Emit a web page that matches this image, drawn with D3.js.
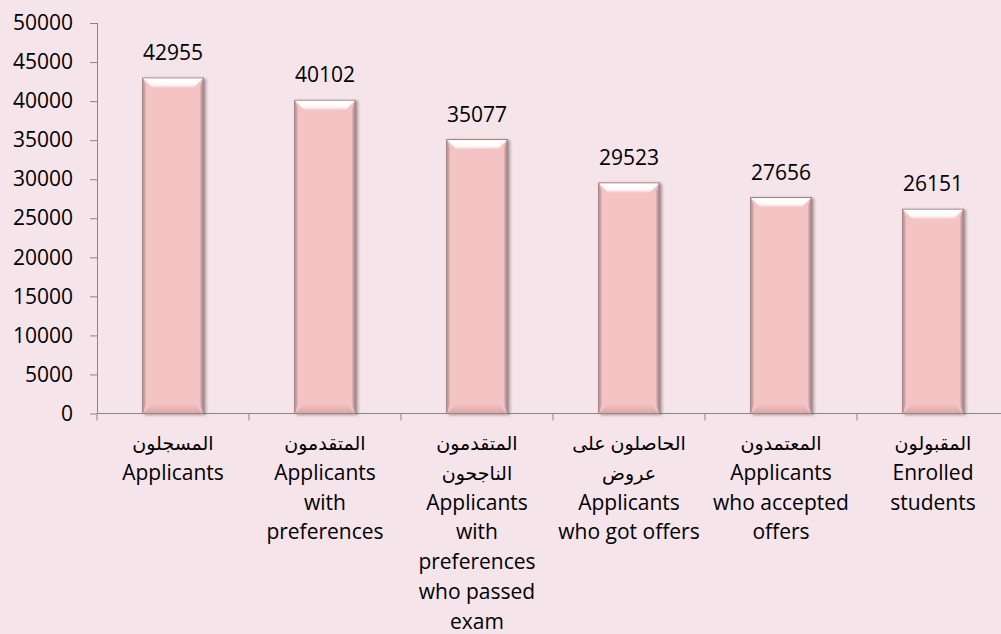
<!DOCTYPE html>
<html>
<head>
<meta charset="utf-8">
<script src="https://cdn.jsdelivr.net/npm/d3@7"></script>
<style>
  body { margin: 0; background: #f5e4e9; }
  text { font-family: "Open Sans", "DejaVu Sans", sans-serif; }
</style>
</head>
<body>
<div id="chart"></div>
<script>
// chart data
var categories = ["Applicants", "Preferences", "Passed", "Offers", "Accepted", "Enrolled"];
var values = [42955, 40102, 35077, 29523, 27656, 26151];
var labelLines = [
  ["المسجلون", "Applicants"],
  ["المتقدمون", "Applicants", "with", "preferences"],
  ["المتقدمون", "الناجحون", "Applicants", "with", "preferences", "who passed", "exam"],
  ["الحاصلون على", "عروض", "Applicants", "who got offers"],
  ["المعتمدون", "Applicants", "who accepted", "offers"],
  ["المقبولون", "Enrolled", "students"]
];
var yTicks = [0, 5000, 10000, 15000, 20000, 25000, 30000, 35000, 40000, 45000, 50000];

var width = 1001, height = 634;
var plotLeft = 97, plotRight = 1009, plotTop = 23, plotBottom = 413.5;

var svg = d3.select("#chart")
  .append("svg")
    .attr("width", width)
    .attr("height", height);

svg.append("rect")
  .attr("width", width)
  .attr("height", height)
  .attr("fill", "#f5e4e9");

var defs = svg.append("defs");

// gradients for the bevel look
var gTop = defs.append("linearGradient").attr("id", "gTop")
  .attr("x1", 0).attr("y1", 0).attr("x2", 0).attr("y2", 1);
gTop.append("stop").attr("offset", "0%").attr("stop-color", "#ffffff");
gTop.append("stop").attr("offset", "65%").attr("stop-color", "#fffafa");
gTop.append("stop").attr("offset", "100%").attr("stop-color", "#f4c3c4");

var gBot = defs.append("linearGradient").attr("id", "gBot")
  .attr("x1", 0).attr("y1", 0).attr("x2", 0).attr("y2", 1);
gBot.append("stop").attr("offset", "0%").attr("stop-color", "#f4c3c4");
gBot.append("stop").attr("offset", "100%").attr("stop-color", "#dba7a9");

var gLeft = defs.append("linearGradient").attr("id", "gLeft")
  .attr("x1", 0).attr("y1", 0).attr("x2", 1).attr("y2", 0);
gLeft.append("stop").attr("offset", "0%").attr("stop-color", "#b58e90");
gLeft.append("stop").attr("offset", "100%").attr("stop-color", "#f4c3c4");

var gRight = defs.append("linearGradient").attr("id", "gRight")
  .attr("x1", 0).attr("y1", 0).attr("x2", 1).attr("y2", 0);
gRight.append("stop").attr("offset", "0%").attr("stop-color", "#f4c3c4");
gRight.append("stop").attr("offset", "100%").attr("stop-color", "#a88486");

var shadow = defs.append("filter").attr("id", "shadow")
  .attr("x", "-20%").attr("y", "-5%").attr("width", "140%").attr("height", "110%");
shadow.append("feGaussianBlur").attr("in", "SourceAlpha").attr("stdDeviation", 1.5);
shadow.append("feOffset").attr("dx", 2).attr("dy", 1).attr("result", "b");
shadow.append("feComponentTransfer").append("feFuncA").attr("type", "linear").attr("slope", 0.35);
var merge = shadow.append("feMerge");
merge.append("feMergeNode");
merge.append("feMergeNode").attr("in", "SourceGraphic");

// scales
var x = d3.scaleBand()
  .domain(categories)
  .range([plotLeft, plotRight])
  .paddingInner(0.6)
  .paddingOuter(0.3);

var y = d3.scaleLinear()
  .domain([0, 50000])
  .range([plotBottom, plotTop]);

// Y axis
var yAxis = svg.append("g")
  .attr("transform", "translate(" + plotLeft + ",0)")
  .call(d3.axisLeft(y).tickValues(yTicks).tickSize(7).tickPadding(17).tickFormat(d3.format("d")));
yAxis.selectAll("path, line").attr("stroke", "#888888");
yAxis.select(".domain").attr("d", "M0.5," + y(50000) + "V" + y(0));
yAxis.selectAll("text")
  .style("font-size", "21px")
  .attr("fill", "#000");

// X axis line + category ticks
svg.append("line")
  .attr("x1", plotLeft).attr("x2", plotRight)
  .attr("y1", plotBottom).attr("y2", plotBottom)
  .attr("stroke", "#888888");

var step = x.step();
svg.append("g").selectAll("line")
  .data(d3.range(categories.length + 1))
  .enter().append("line")
    .attr("x1", function(i) { return plotLeft + i * step; })
    .attr("x2", function(i) { return plotLeft + i * step; })
    .attr("y1", plotBottom)
    .attr("y2", plotBottom + 7)
    .attr("stroke", "#888888");

// bars
var bw = x.bandwidth();
var bev = 10;
var bars = svg.append("g").selectAll("g")
  .data(values)
  .enter().append("g")
    .attr("filter", "url(#shadow)");

bars.append("rect")
  .attr("x", function(d, i) { return x(categories[i]); })
  .attr("y", function(d) { return y(d); })
  .attr("width", bw)
  .attr("height", function(d) { return y(0) - y(d); })
  .attr("fill", "#f4c3c4")
  .attr("stroke", "#a08284")
  .attr("stroke-width", 1);

// top bevel
bars.append("polygon")
  .attr("points", function(d, i) {
    var x0 = x(categories[i]), y0 = y(d);
    return [[x0 + 0.5, y0 + 0.5], [x0 + bw - 0.5, y0 + 0.5], [x0 + bw - bev, y0 + bev], [x0 + bev, y0 + bev]].join(" ");
  })
  .attr("fill", "url(#gTop)");

// bottom bevel
bars.append("polygon")
  .attr("points", function(d, i) {
    var x0 = x(categories[i]), y1 = y(0);
    return [[x0 + 0.5, y1 - 0.5], [x0 + bw - 0.5, y1 - 0.5], [x0 + bw - bev, y1 - bev], [x0 + bev, y1 - bev]].join(" ");
  })
  .attr("fill", "url(#gBot)");

// left / right edges
bars.append("polygon")
  .attr("points", function(d, i) {
    var x0 = x(categories[i]), y0 = y(d), y1 = y(0);
    return [[x0 + 0.5, y0 + 0.5], [x0 + 4, y0 + bev], [x0 + 4, y1 - bev], [x0 + 0.5, y1 - 0.5]].join(" ");
  })
  .attr("fill", "url(#gLeft)");
bars.append("polygon")
  .attr("points", function(d, i) {
    var x1 = x(categories[i]) + bw, y0 = y(d), y1 = y(0);
    return [[x1 - 0.5, y0 + 0.5], [x1 - 4, y0 + bev], [x1 - 4, y1 - bev], [x1 - 0.5, y1 - 0.5]].join(" ");
  })
  .attr("fill", "url(#gRight)");

// value labels
svg.append("g").selectAll("text")
  .data(values)
  .enter().append("text")
    .attr("x", function(d, i) { return x(categories[i]) + bw / 2; })
    .attr("y", function(d) { return y(d) - 18; })
    .attr("text-anchor", "middle")
    .style("font-size", "21px")
    .attr("fill", "#000")
    .text(function(d) { return d; });

// category labels
var isArabic = function(s) { return /[\u0600-\u06FF]/.test(s); };
var cat = svg.append("g").selectAll("text")
  .data(labelLines)
  .enter().append("text")
    .attr("text-anchor", "middle")
    .style("font-size", "21px")
    .attr("fill", "#000");

cat.selectAll("tspan")
  .data(function(d, i) { return d.map(function(t) { return {t: t, i: i}; }); })
  .enter().append("tspan")
    .attr("x", function(d) { return x(categories[d.i]) + bw / 2; })
    .attr("y", function(d, j) { return 450 + j * 29.8; })
    .style("font-size", function(d) { return isArabic(d.t) ? "19px" : null; })
    .text(function(d) { return d.t; });
</script>
</body>
</html>
